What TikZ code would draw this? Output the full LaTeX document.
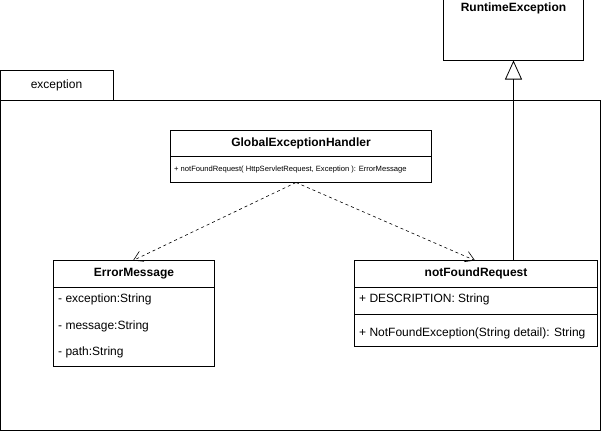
\documentclass[tikz,border=0pt]{standalone}
\usepackage{fontspec}
\setmainfont{Liberation Sans}
\usetikzlibrary{arrows.meta}
\begin{document}
\begin{tikzpicture}[x=1pt,y=-1pt,
  box/.style={draw,line width=1pt,inner sep=0,outer sep=0,anchor=north west},
  ttl/.style={font=\fontsize{12}{14}\selectfont\bfseries},
  row/.style={font=\fontsize{12}{14}\selectfont,anchor=west,inner sep=0},
  small/.style={font=\fontsize{7.6}{9}\selectfont,anchor=west,inner sep=0},
  dep/.style={dashed,line width=0.6pt,-{Straight Barb[length=9pt,width=11pt]}},
  gen/.style={line width=0.8pt,-{Triangle[open,length=19pt,width=17pt]}}]
\useasboundingbox (0,0) rectangle (602,431);
% RuntimeException
\node[box,minimum width=140,minimum height=61] (rt) at (443.5,-1) {};
\node[ttl,anchor=north] (rtt) at (513.5,-1) {RuntimeException};
% package
\node[box,minimum width=113,minimum height=30] (tab) at (0.5,70.5) {};
\node[font=\fontsize{12}{14}\selectfont] (tabt) at (56.5,85.5) {exception};
\node[box,minimum width=600,minimum height=330] (pkg) at (0.5,100.5) {};
% GlobalExceptionHandler
\node[box,minimum width=261,minimum height=52] (geh) at (170.5,130.5) {};
\draw[line width=0.8pt] (170.5,156.5) -- (431.5,156.5);
\node[ttl] (geht) at (301,143.5) {GlobalExceptionHandler};
\node[small] (gehm) at (174,170) {+ notFoundRequest( HttpServletRequest, Exception ): ErrorMessage};
% ErrorMessage
\node[box,minimum width=161,minimum height=106] (em) at (53.5,260.5) {};
\draw[line width=0.8pt] (53.5,287.5) -- (214.5,287.5);
\node[ttl] (emt) at (134,273.5) {ErrorMessage};
\node[row] (em1) at (58,299.5) {- exception:String};
\node[row] (em2) at (58,326) {- message:String};
\node[row] (em3) at (58,352) {- path:String};
% notFoundRequest
\node[box,minimum width=243,minimum height=86] (nf) at (354.5,260.5) {};
\draw[line width=0.8pt] (354.5,287.5) -- (597.5,287.5);
\draw[line width=0.8pt] (354.5,314.5) -- (597.5,314.5);
\node[ttl] (nft) at (476,273.5) {notFoundRequest};
\node[row] (nf1) at (359,299.5) {+ DESCRIPTION: String};
\node[row] (nf2) at (359,333) {+ NotFoundException(String detail): String};
% connectors
\coordinate (gs) at (296,182.5);
\draw[dep] (gs) -- (133,260.5);
\draw[dep] (gs) -- (475,260.5);
\coordinate (ns) at (513.5,260.5);
\coordinate (re) at (513.5,60.5);
\draw[gen] (ns) -- (re);
\end{tikzpicture}
\end{document}
